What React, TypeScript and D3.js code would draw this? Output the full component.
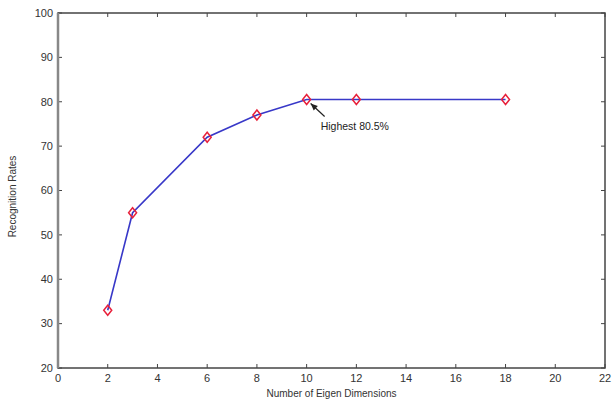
import * as d3 from "d3";
import React from "react";

// eigen dimensions vs recognition rate
const dims = [2, 3, 6, 8, 10, 12, 18];
const rates = [33, 55, 72, 77, 80.5, 80.5, 80.5];
const xTicks = [0, 2, 4, 6, 8, 10, 12, 14, 16, 18, 20, 22];
const yTicks = [20, 30, 40, 50, 60, 70, 80, 90, 100];
const noteText = "Highest 80.5%";

const W = 612;
const H = 402;
const margin = { top: 13, right: 7, bottom: 34, left: 58 };

const App = () => {
  const width = W - margin.left - margin.right;
  const height = H - margin.top - margin.bottom;

  const x = d3.scaleLinear().domain([0, 22]).range([0, width]);
  const y = d3.scaleLinear().domain([20, 100]).range([height, 0]);

  const pts = dims.map((d, i) => [d, rates[i]] as [number, number]);
  const line = d3
    .line<[number, number]>()
    .x((d) => x(d[0]))
    .y((d) => y(d[1]));

  const tk = 4;
  const axisColor = "#444";
  const font = "'Liberation Sans', Arial, sans-serif";

  // arrow for the annotation, pointing at the peak
  const peakX = x(10);
  const peakY = y(80.5);
  const ax1 = peakX + 18;
  const ay1 = peakY + 17;
  const ax2 = peakX + 4;
  const ay2 = peakY + 4;
  const ang = Math.atan2(ay2 - ay1, ax2 - ax1);
  const hl = 7;
  const hw = 3;
  const head = [
    [ax2, ay2],
    [ax2 - hl * Math.cos(ang) + hw * Math.sin(ang), ay2 - hl * Math.sin(ang) - hw * Math.cos(ang)],
    [ax2 - hl * Math.cos(ang) - hw * Math.sin(ang), ay2 - hl * Math.sin(ang) + hw * Math.cos(ang)],
  ]
    .map((p) => p.join(","))
    .join(" ");

  return (
    <svg
      width={W}
      height={H}
      style={{ position: "absolute", left: 0, top: 0, background: "#fff" }}
      fontFamily={font}
    >
      <g transform={`translate(${margin.left},${margin.top})`}>
        {/* ticks, pointing inward on all sides */}
        {xTicks.map((t) => (
          <g key={"x" + t}>
            <line x1={x(t)} x2={x(t)} y1={height} y2={height - tk} stroke={axisColor} strokeWidth={1} />
            <line x1={x(t)} x2={x(t)} y1={0} y2={tk} stroke={axisColor} strokeWidth={1} />
            <text x={x(t)} y={height + 14} textAnchor="middle" fontSize={11} fill="#333">
              {t}
            </text>
          </g>
        ))}
        {yTicks.map((t) => (
          <g key={"y" + t}>
            <line x1={0} x2={tk} y1={y(t)} y2={y(t)} stroke={axisColor} strokeWidth={1} />
            <line x1={width} x2={width - tk} y1={y(t)} y2={y(t)} stroke={axisColor} strokeWidth={1} />
            <text x={-5} y={y(t)} dy="0.35em" textAnchor="end" fontSize={11} fill="#333">
              {t}
            </text>
          </g>
        ))}

        <rect x={0} y={0} width={width} height={height} fill="none" stroke={axisColor} strokeWidth={1.5} />
        <line x1={0} x2={0} y1={0} y2={height} stroke="#888" strokeWidth={2.5} />

        <path d={line(pts) || ""} fill="none" stroke="#3838c8" strokeWidth={1.6} />

        {pts.map((p, i) => {
          const cx = x(p[0]);
          const cy = y(p[1]);
          const rx = 4;
          const ry = 5;
          return (
            <polygon
              key={i}
              points={`${cx},${cy - ry} ${cx + rx},${cy} ${cx},${cy + ry} ${cx - rx},${cy}`}
              fill="none"
              stroke="#e8203a"
              strokeWidth={1.5}
            />
          );
        })}

        <line x1={ax1} y1={ay1} x2={ax2} y2={ay2} stroke="#222" strokeWidth={1.2} />
        <polygon points={head} fill="#222" />
        <text x={peakX + 14} y={peakY + 30} fontSize={10.5} fill="#222">
          {noteText}
        </text>

        <text x={width / 2} y={height + 29} textAnchor="middle" fontSize={10} fill="#333">
          Number of Eigen Dimensions
        </text>
        <text
          transform={`translate(${-42},${height / 2 + 6}) rotate(-90)`}
          textAnchor="middle"
          fontSize={10}
          fill="#333"
        >
          Recognition Rates
        </text>
      </g>
    </svg>
  );
};

export default App;
